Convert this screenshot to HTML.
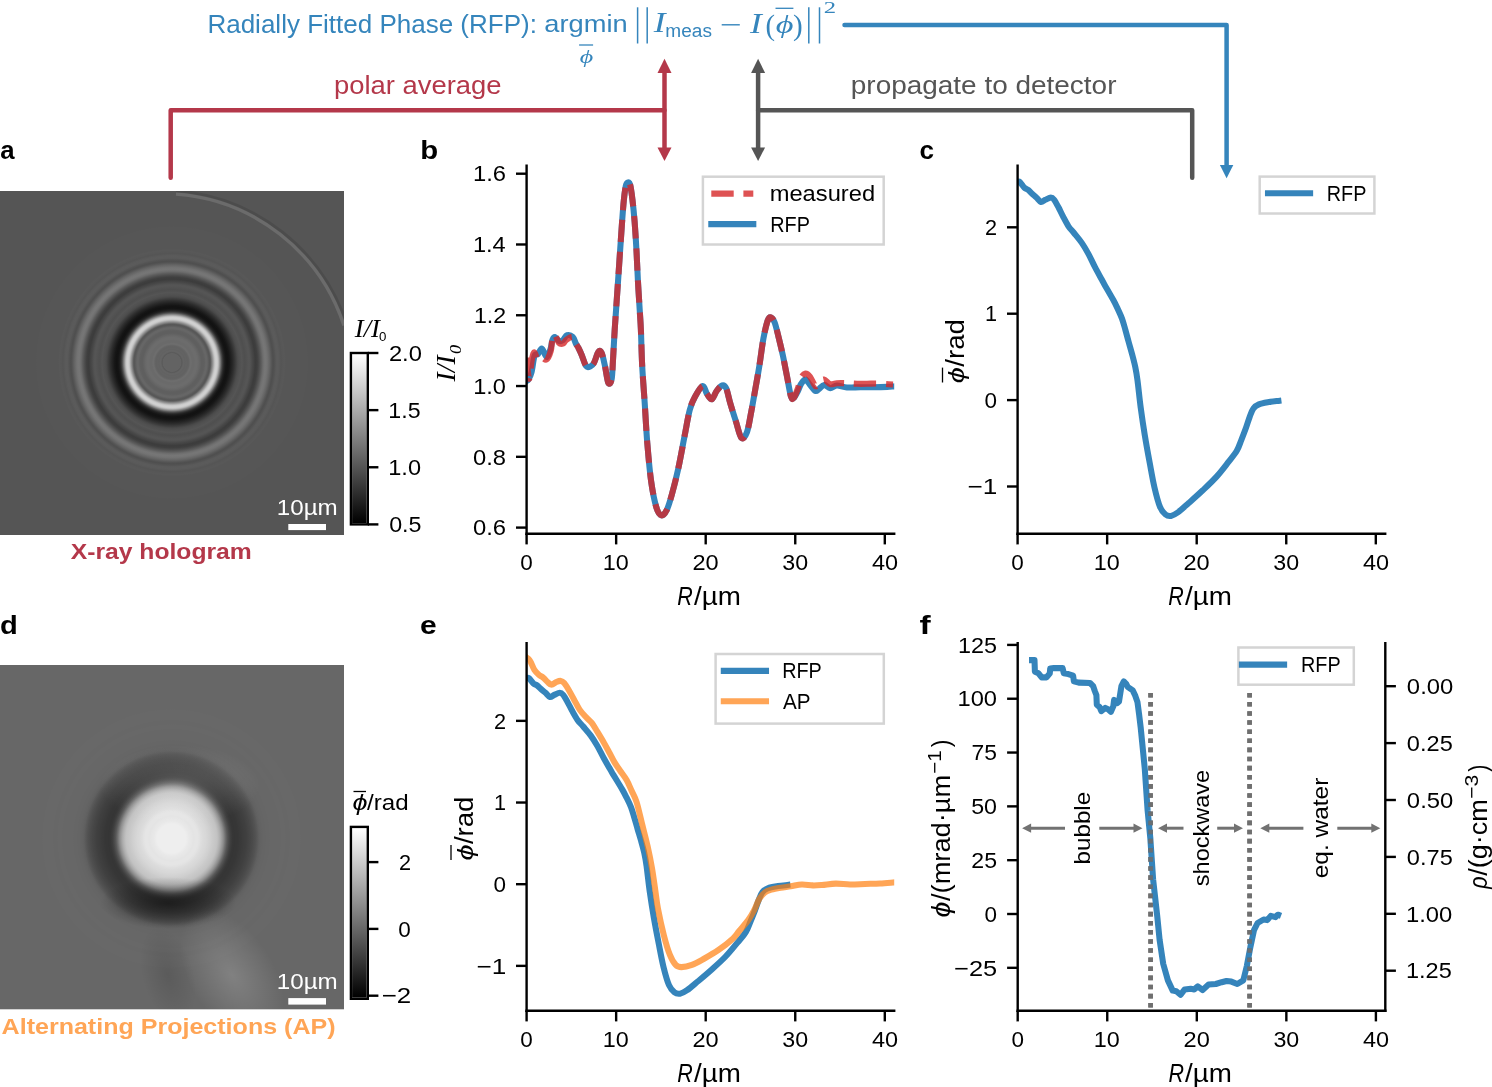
<!DOCTYPE html>
<html><head><meta charset="utf-8"><title>Radially Fitted Phase figure</title><style>html,body{margin:0;padding:0;background:#fff;overflow:hidden}svg{display:block;font-family:"Liberation Sans",sans-serif;will-change:transform}</style></head><body>
<svg width="1492" height="1087" viewBox="0 0 1492 1087"><defs><radialGradient id="ga" gradientUnits="userSpaceOnUse" cx="172.00" cy="362.50" r="136.10"><stop offset="0" stop-color="rgb(99,99,99)"/><stop offset="0.0661" stop-color="rgb(99,99,99)"/><stop offset="0.0707" stop-color="rgb(91,91,91)"/><stop offset="0.0752" stop-color="rgb(92,92,92)"/><stop offset="0.0798" stop-color="rgb(98,98,98)"/><stop offset="0.0843" stop-color="rgb(100,100,100)"/><stop offset="0.0889" stop-color="rgb(100,100,100)"/><stop offset="0.0935" stop-color="rgb(98,98,98)"/><stop offset="0.0980" stop-color="rgb(98,98,98)"/><stop offset="0.1026" stop-color="rgb(99,99,99)"/><stop offset="0.1071" stop-color="rgb(99,99,99)"/><stop offset="0.1117" stop-color="rgb(98,98,98)"/><stop offset="0.1162" stop-color="rgb(98,98,98)"/><stop offset="0.1208" stop-color="rgb(99,99,99)"/><stop offset="0.1253" stop-color="rgb(101,101,101)"/><stop offset="0.1299" stop-color="rgb(105,105,105)"/><stop offset="0.1345" stop-color="rgb(109,109,109)"/><stop offset="0.1390" stop-color="rgb(109,109,109)"/><stop offset="0.1436" stop-color="rgb(108,108,108)"/><stop offset="0.1481" stop-color="rgb(106,106,106)"/><stop offset="0.1527" stop-color="rgb(106,106,106)"/><stop offset="0.1572" stop-color="rgb(106,106,106)"/><stop offset="0.1618" stop-color="rgb(106,106,106)"/><stop offset="0.1663" stop-color="rgb(107,107,107)"/><stop offset="0.1709" stop-color="rgb(108,108,108)"/><stop offset="0.1755" stop-color="rgb(108,108,108)"/><stop offset="0.1800" stop-color="rgb(108,108,108)"/><stop offset="0.1846" stop-color="rgb(108,108,108)"/><stop offset="0.1891" stop-color="rgb(106,106,106)"/><stop offset="0.1937" stop-color="rgb(105,105,105)"/><stop offset="0.1982" stop-color="rgb(103,103,103)"/><stop offset="0.2028" stop-color="rgb(101,101,101)"/><stop offset="0.2073" stop-color="rgb(99,99,99)"/><stop offset="0.2119" stop-color="rgb(97,97,97)"/><stop offset="0.2165" stop-color="rgb(95,95,95)"/><stop offset="0.2210" stop-color="rgb(95,95,95)"/><stop offset="0.2256" stop-color="rgb(95,95,95)"/><stop offset="0.2301" stop-color="rgb(95,95,95)"/><stop offset="0.2347" stop-color="rgb(96,96,96)"/><stop offset="0.2392" stop-color="rgb(97,97,97)"/><stop offset="0.2438" stop-color="rgb(100,100,100)"/><stop offset="0.2483" stop-color="rgb(102,102,102)"/><stop offset="0.2529" stop-color="rgb(102,102,102)"/><stop offset="0.2575" stop-color="rgb(102,102,102)"/><stop offset="0.2620" stop-color="rgb(98,98,98)"/><stop offset="0.2666" stop-color="rgb(94,94,94)"/><stop offset="0.2711" stop-color="rgb(90,90,90)"/><stop offset="0.2757" stop-color="rgb(87,87,87)"/><stop offset="0.2802" stop-color="rgb(88,88,88)"/><stop offset="0.2848" stop-color="rgb(96,96,96)"/><stop offset="0.2893" stop-color="rgb(113,113,113)"/><stop offset="0.2939" stop-color="rgb(129,129,129)"/><stop offset="0.2985" stop-color="rgb(144,144,144)"/><stop offset="0.3030" stop-color="rgb(160,160,160)"/><stop offset="0.3076" stop-color="rgb(176,176,176)"/><stop offset="0.3121" stop-color="rgb(191,191,191)"/><stop offset="0.3167" stop-color="rgb(202,202,202)"/><stop offset="0.3212" stop-color="rgb(207,207,207)"/><stop offset="0.3258" stop-color="rgb(209,209,209)"/><stop offset="0.3303" stop-color="rgb(208,208,208)"/><stop offset="0.3349" stop-color="rgb(202,202,202)"/><stop offset="0.3395" stop-color="rgb(190,190,190)"/><stop offset="0.3440" stop-color="rgb(174,174,174)"/><stop offset="0.3486" stop-color="rgb(152,152,152)"/><stop offset="0.3531" stop-color="rgb(133,133,133)"/><stop offset="0.3577" stop-color="rgb(113,113,113)"/><stop offset="0.3622" stop-color="rgb(90,90,90)"/><stop offset="0.3668" stop-color="rgb(74,74,74)"/><stop offset="0.3713" stop-color="rgb(58,58,58)"/><stop offset="0.3759" stop-color="rgb(46,46,46)"/><stop offset="0.3805" stop-color="rgb(37,37,37)"/><stop offset="0.3850" stop-color="rgb(30,30,30)"/><stop offset="0.3896" stop-color="rgb(26,26,26)"/><stop offset="0.3941" stop-color="rgb(22,22,22)"/><stop offset="0.3987" stop-color="rgb(19,19,19)"/><stop offset="0.4032" stop-color="rgb(19,19,19)"/><stop offset="0.4078" stop-color="rgb(18,18,18)"/><stop offset="0.4123" stop-color="rgb(19,19,19)"/><stop offset="0.4169" stop-color="rgb(21,21,21)"/><stop offset="0.4215" stop-color="rgb(22,22,22)"/><stop offset="0.4260" stop-color="rgb(26,26,26)"/><stop offset="0.4306" stop-color="rgb(29,29,29)"/><stop offset="0.4351" stop-color="rgb(32,32,32)"/><stop offset="0.4397" stop-color="rgb(36,36,36)"/><stop offset="0.4442" stop-color="rgb(39,39,39)"/><stop offset="0.4488" stop-color="rgb(43,43,43)"/><stop offset="0.4533" stop-color="rgb(47,47,47)"/><stop offset="0.4579" stop-color="rgb(51,51,51)"/><stop offset="0.4625" stop-color="rgb(56,56,56)"/><stop offset="0.4670" stop-color="rgb(60,60,60)"/><stop offset="0.4716" stop-color="rgb(64,64,64)"/><stop offset="0.4761" stop-color="rgb(69,69,69)"/><stop offset="0.4807" stop-color="rgb(73,73,73)"/><stop offset="0.4852" stop-color="rgb(76,76,76)"/><stop offset="0.4898" stop-color="rgb(78,78,78)"/><stop offset="0.4943" stop-color="rgb(80,80,80)"/><stop offset="0.4989" stop-color="rgb(81,81,81)"/><stop offset="0.5035" stop-color="rgb(82,82,82)"/><stop offset="0.5080" stop-color="rgb(83,83,83)"/><stop offset="0.5126" stop-color="rgb(85,85,85)"/><stop offset="0.5171" stop-color="rgb(84,84,84)"/><stop offset="0.5217" stop-color="rgb(82,82,82)"/><stop offset="0.5262" stop-color="rgb(81,81,81)"/><stop offset="0.5308" stop-color="rgb(80,80,80)"/><stop offset="0.5353" stop-color="rgb(79,79,79)"/><stop offset="0.5399" stop-color="rgb(80,80,80)"/><stop offset="0.5445" stop-color="rgb(81,81,81)"/><stop offset="0.5490" stop-color="rgb(82,82,82)"/><stop offset="0.5536" stop-color="rgb(83,83,83)"/><stop offset="0.5581" stop-color="rgb(84,84,84)"/><stop offset="0.5627" stop-color="rgb(85,85,85)"/><stop offset="0.5672" stop-color="rgb(85,85,85)"/><stop offset="0.5718" stop-color="rgb(84,84,84)"/><stop offset="0.5763" stop-color="rgb(82,82,82)"/><stop offset="0.5809" stop-color="rgb(79,79,79)"/><stop offset="0.5855" stop-color="rgb(76,76,76)"/><stop offset="0.5900" stop-color="rgb(73,73,73)"/><stop offset="0.5946" stop-color="rgb(70,70,70)"/><stop offset="0.5991" stop-color="rgb(68,68,68)"/><stop offset="0.6037" stop-color="rgb(65,65,65)"/><stop offset="0.6082" stop-color="rgb(62,62,62)"/><stop offset="0.6128" stop-color="rgb(60,60,60)"/><stop offset="0.6173" stop-color="rgb(61,61,61)"/><stop offset="0.6219" stop-color="rgb(62,62,62)"/><stop offset="0.6265" stop-color="rgb(63,63,63)"/><stop offset="0.6310" stop-color="rgb(67,67,67)"/><stop offset="0.6356" stop-color="rgb(71,71,71)"/><stop offset="0.6401" stop-color="rgb(75,75,75)"/><stop offset="0.6447" stop-color="rgb(80,80,80)"/><stop offset="0.6492" stop-color="rgb(85,85,85)"/><stop offset="0.6538" stop-color="rgb(90,90,90)"/><stop offset="0.6583" stop-color="rgb(95,95,95)"/><stop offset="0.6629" stop-color="rgb(101,101,101)"/><stop offset="0.6675" stop-color="rgb(107,107,107)"/><stop offset="0.6720" stop-color="rgb(111,111,111)"/><stop offset="0.6766" stop-color="rgb(114,114,114)"/><stop offset="0.6811" stop-color="rgb(117,117,117)"/><stop offset="0.6857" stop-color="rgb(118,118,118)"/><stop offset="0.6902" stop-color="rgb(117,117,117)"/><stop offset="0.6948" stop-color="rgb(116,116,116)"/><stop offset="0.6993" stop-color="rgb(114,114,114)"/><stop offset="0.7039" stop-color="rgb(111,111,111)"/><stop offset="0.7084" stop-color="rgb(107,107,107)"/><stop offset="0.7130" stop-color="rgb(104,104,104)"/><stop offset="0.7176" stop-color="rgb(100,100,100)"/><stop offset="0.7221" stop-color="rgb(96,96,96)"/><stop offset="0.7267" stop-color="rgb(91,91,91)"/><stop offset="0.7312" stop-color="rgb(87,87,87)"/><stop offset="0.7358" stop-color="rgb(83,83,83)"/><stop offset="0.7403" stop-color="rgb(80,80,80)"/><stop offset="0.7449" stop-color="rgb(79,79,79)"/><stop offset="0.7494" stop-color="rgb(81,81,81)"/><stop offset="0.7540" stop-color="rgb(83,83,83)"/><stop offset="0.7586" stop-color="rgb(85,85,85)"/><stop offset="0.7631" stop-color="rgb(88,88,88)"/><stop offset="0.7677" stop-color="rgb(90,90,90)"/><stop offset="0.7722" stop-color="rgb(90,90,90)"/><stop offset="0.7768" stop-color="rgb(91,91,91)"/><stop offset="0.7813" stop-color="rgb(90,90,90)"/><stop offset="0.7859" stop-color="rgb(90,90,90)"/><stop offset="0.7904" stop-color="rgb(88,88,88)"/><stop offset="0.7950" stop-color="rgb(87,87,87)"/><stop offset="0.7996" stop-color="rgb(85,85,85)"/><stop offset="0.8041" stop-color="rgb(85,85,85)"/><stop offset="0.8087" stop-color="rgb(86,86,86)"/><stop offset="0.8132" stop-color="rgb(87,87,87)"/><stop offset="0.8178" stop-color="rgb(87,87,87)"/><stop offset="0.8223" stop-color="rgb(88,88,88)"/><stop offset="0.8269" stop-color="rgb(88,88,88)"/><stop offset="0.8314" stop-color="rgb(87,87,87)"/><stop offset="0.8360" stop-color="rgb(86,86,86)"/><stop offset="0.8406" stop-color="rgb(86,86,86)"/><stop offset="0.8451" stop-color="rgb(86,86,86)"/><stop offset="0.8497" stop-color="rgb(86,86,86)"/><stop offset="0.8542" stop-color="rgb(86,86,86)"/><stop offset="0.8588" stop-color="rgb(86,86,86)"/><stop offset="0.8633" stop-color="rgb(86,86,86)"/><stop offset="0.8679" stop-color="rgb(86,86,86)"/><stop offset="0.8724" stop-color="rgb(86,86,86)"/><stop offset="0.8770" stop-color="rgb(86,86,86)"/><stop offset="0.8816" stop-color="rgb(86,86,86)"/><stop offset="0.8861" stop-color="rgb(86,86,86)"/><stop offset="0.8907" stop-color="rgb(86,86,86)"/><stop offset="0.8952" stop-color="rgb(86,86,86)"/><stop offset="0.8998" stop-color="rgb(86,86,86)"/><stop offset="0.9043" stop-color="rgb(86,86,86)"/><stop offset="0.9089" stop-color="rgb(86,86,86)"/><stop offset="0.9134" stop-color="rgb(86,86,86)"/><stop offset="0.9180" stop-color="rgb(86,86,86)"/><stop offset="0.9226" stop-color="rgb(86,86,86)"/><stop offset="0.9271" stop-color="rgb(86,86,86)"/><stop offset="0.9317" stop-color="rgb(86,86,86)"/><stop offset="0.9362" stop-color="rgb(86,86,86)"/><stop offset="0.9408" stop-color="rgb(86,86,86)"/><stop offset="0.9453" stop-color="rgb(86,86,86)"/><stop offset="0.9499" stop-color="rgb(86,86,86)"/><stop offset="0.9544" stop-color="rgb(86,86,86)"/><stop offset="0.9590" stop-color="rgb(86,86,86)"/><stop offset="0.9636" stop-color="rgb(86,86,86)"/><stop offset="0.9681" stop-color="rgb(86,86,86)"/><stop offset="0.9727" stop-color="rgb(86,86,86)"/><stop offset="0.9772" stop-color="rgb(86,86,86)"/><stop offset="0.9818" stop-color="rgb(86,86,86)"/><stop offset="0.9863" stop-color="rgb(86,86,86)"/><stop offset="0.9909" stop-color="rgb(86,86,86)"/><stop offset="0.9954" stop-color="rgb(86,86,86)"/><stop offset="1.0000" stop-color="rgb(85,85,85)"/></radialGradient><radialGradient id="gd" gradientUnits="userSpaceOnUse" cx="171.50" cy="838.50" r="129.30"><stop offset="0" stop-color="rgb(238,238,238)"/><stop offset="0.1121" stop-color="rgb(238,238,238)"/><stop offset="0.1165" stop-color="rgb(237,237,237)"/><stop offset="0.1208" stop-color="rgb(236,236,236)"/><stop offset="0.1251" stop-color="rgb(235,235,235)"/><stop offset="0.1295" stop-color="rgb(234,234,234)"/><stop offset="0.1338" stop-color="rgb(233,233,233)"/><stop offset="0.1381" stop-color="rgb(232,232,232)"/><stop offset="0.1425" stop-color="rgb(232,232,232)"/><stop offset="0.1468" stop-color="rgb(231,231,231)"/><stop offset="0.1511" stop-color="rgb(231,231,231)"/><stop offset="0.1555" stop-color="rgb(230,230,230)"/><stop offset="0.1598" stop-color="rgb(230,230,230)"/><stop offset="0.1641" stop-color="rgb(229,229,229)"/><stop offset="0.1684" stop-color="rgb(228,228,228)"/><stop offset="0.1728" stop-color="rgb(228,228,228)"/><stop offset="0.1771" stop-color="rgb(228,228,228)"/><stop offset="0.1814" stop-color="rgb(229,229,229)"/><stop offset="0.1858" stop-color="rgb(229,229,229)"/><stop offset="0.1901" stop-color="rgb(229,229,229)"/><stop offset="0.1944" stop-color="rgb(229,229,229)"/><stop offset="0.1988" stop-color="rgb(229,229,229)"/><stop offset="0.2031" stop-color="rgb(229,229,229)"/><stop offset="0.2074" stop-color="rgb(228,228,228)"/><stop offset="0.2118" stop-color="rgb(227,227,227)"/><stop offset="0.2161" stop-color="rgb(226,226,226)"/><stop offset="0.2204" stop-color="rgb(225,225,225)"/><stop offset="0.2247" stop-color="rgb(223,223,223)"/><stop offset="0.2291" stop-color="rgb(222,222,222)"/><stop offset="0.2334" stop-color="rgb(221,221,221)"/><stop offset="0.2377" stop-color="rgb(220,220,220)"/><stop offset="0.2421" stop-color="rgb(219,219,219)"/><stop offset="0.2464" stop-color="rgb(218,218,218)"/><stop offset="0.2507" stop-color="rgb(218,218,218)"/><stop offset="0.2551" stop-color="rgb(217,217,217)"/><stop offset="0.2594" stop-color="rgb(216,216,216)"/><stop offset="0.2637" stop-color="rgb(216,216,216)"/><stop offset="0.2681" stop-color="rgb(215,215,215)"/><stop offset="0.2724" stop-color="rgb(214,214,214)"/><stop offset="0.2767" stop-color="rgb(213,213,213)"/><stop offset="0.2811" stop-color="rgb(212,212,212)"/><stop offset="0.2854" stop-color="rgb(211,211,211)"/><stop offset="0.2897" stop-color="rgb(210,210,210)"/><stop offset="0.2940" stop-color="rgb(209,209,209)"/><stop offset="0.2984" stop-color="rgb(208,208,208)"/><stop offset="0.3027" stop-color="rgb(207,207,207)"/><stop offset="0.3070" stop-color="rgb(206,206,206)"/><stop offset="0.3114" stop-color="rgb(204,204,204)"/><stop offset="0.3157" stop-color="rgb(203,203,203)"/><stop offset="0.3200" stop-color="rgb(202,202,202)"/><stop offset="0.3244" stop-color="rgb(201,201,201)"/><stop offset="0.3287" stop-color="rgb(200,200,200)"/><stop offset="0.3330" stop-color="rgb(199,199,199)"/><stop offset="0.3374" stop-color="rgb(198,198,198)"/><stop offset="0.3417" stop-color="rgb(197,197,197)"/><stop offset="0.3460" stop-color="rgb(196,196,196)"/><stop offset="0.3503" stop-color="rgb(195,195,195)"/><stop offset="0.3547" stop-color="rgb(193,193,193)"/><stop offset="0.3590" stop-color="rgb(189,189,189)"/><stop offset="0.3633" stop-color="rgb(186,186,186)"/><stop offset="0.3677" stop-color="rgb(182,182,182)"/><stop offset="0.3720" stop-color="rgb(178,178,178)"/><stop offset="0.3763" stop-color="rgb(174,174,174)"/><stop offset="0.3807" stop-color="rgb(169,169,169)"/><stop offset="0.3850" stop-color="rgb(163,163,163)"/><stop offset="0.3893" stop-color="rgb(157,157,157)"/><stop offset="0.3937" stop-color="rgb(151,151,151)"/><stop offset="0.3980" stop-color="rgb(145,145,145)"/><stop offset="0.4023" stop-color="rgb(138,138,138)"/><stop offset="0.4067" stop-color="rgb(130,130,130)"/><stop offset="0.4110" stop-color="rgb(122,122,122)"/><stop offset="0.4153" stop-color="rgb(113,113,113)"/><stop offset="0.4196" stop-color="rgb(106,106,106)"/><stop offset="0.4240" stop-color="rgb(99,99,99)"/><stop offset="0.4283" stop-color="rgb(91,91,91)"/><stop offset="0.4326" stop-color="rgb(85,85,85)"/><stop offset="0.4370" stop-color="rgb(81,81,81)"/><stop offset="0.4413" stop-color="rgb(76,76,76)"/><stop offset="0.4456" stop-color="rgb(71,71,71)"/><stop offset="0.4500" stop-color="rgb(68,68,68)"/><stop offset="0.4543" stop-color="rgb(64,64,64)"/><stop offset="0.4586" stop-color="rgb(61,61,61)"/><stop offset="0.4630" stop-color="rgb(59,59,59)"/><stop offset="0.4673" stop-color="rgb(57,57,57)"/><stop offset="0.4716" stop-color="rgb(55,55,55)"/><stop offset="0.4759" stop-color="rgb(54,54,54)"/><stop offset="0.4803" stop-color="rgb(54,54,54)"/><stop offset="0.4846" stop-color="rgb(53,53,53)"/><stop offset="0.4889" stop-color="rgb(53,53,53)"/><stop offset="0.4933" stop-color="rgb(54,54,54)"/><stop offset="0.4976" stop-color="rgb(54,54,54)"/><stop offset="0.5019" stop-color="rgb(54,54,54)"/><stop offset="0.5063" stop-color="rgb(54,54,54)"/><stop offset="0.5106" stop-color="rgb(54,54,54)"/><stop offset="0.5149" stop-color="rgb(55,55,55)"/><stop offset="0.5193" stop-color="rgb(55,55,55)"/><stop offset="0.5236" stop-color="rgb(56,56,56)"/><stop offset="0.5279" stop-color="rgb(57,57,57)"/><stop offset="0.5323" stop-color="rgb(57,57,57)"/><stop offset="0.5366" stop-color="rgb(58,58,58)"/><stop offset="0.5409" stop-color="rgb(58,58,58)"/><stop offset="0.5452" stop-color="rgb(59,59,59)"/><stop offset="0.5496" stop-color="rgb(60,60,60)"/><stop offset="0.5539" stop-color="rgb(60,60,60)"/><stop offset="0.5582" stop-color="rgb(61,61,61)"/><stop offset="0.5626" stop-color="rgb(62,62,62)"/><stop offset="0.5669" stop-color="rgb(62,62,62)"/><stop offset="0.5712" stop-color="rgb(63,63,63)"/><stop offset="0.5756" stop-color="rgb(63,63,63)"/><stop offset="0.5799" stop-color="rgb(64,64,64)"/><stop offset="0.5842" stop-color="rgb(65,65,65)"/><stop offset="0.5886" stop-color="rgb(66,66,66)"/><stop offset="0.5929" stop-color="rgb(67,67,67)"/><stop offset="0.5972" stop-color="rgb(68,68,68)"/><stop offset="0.6015" stop-color="rgb(69,69,69)"/><stop offset="0.6059" stop-color="rgb(70,70,70)"/><stop offset="0.6102" stop-color="rgb(70,70,70)"/><stop offset="0.6145" stop-color="rgb(72,72,72)"/><stop offset="0.6189" stop-color="rgb(73,73,73)"/><stop offset="0.6232" stop-color="rgb(74,74,74)"/><stop offset="0.6275" stop-color="rgb(75,75,75)"/><stop offset="0.6319" stop-color="rgb(77,77,77)"/><stop offset="0.6362" stop-color="rgb(78,78,78)"/><stop offset="0.6405" stop-color="rgb(79,79,79)"/><stop offset="0.6449" stop-color="rgb(81,81,81)"/><stop offset="0.6492" stop-color="rgb(82,82,82)"/><stop offset="0.6535" stop-color="rgb(84,84,84)"/><stop offset="0.6578" stop-color="rgb(86,86,86)"/><stop offset="0.6622" stop-color="rgb(88,88,88)"/><stop offset="0.6665" stop-color="rgb(90,90,90)"/><stop offset="0.6708" stop-color="rgb(92,92,92)"/><stop offset="0.6752" stop-color="rgb(95,95,95)"/><stop offset="0.6795" stop-color="rgb(96,96,96)"/><stop offset="0.6838" stop-color="rgb(97,97,97)"/><stop offset="0.6882" stop-color="rgb(98,98,98)"/><stop offset="0.6925" stop-color="rgb(99,99,99)"/><stop offset="0.6968" stop-color="rgb(99,99,99)"/><stop offset="0.7012" stop-color="rgb(100,100,100)"/><stop offset="0.7055" stop-color="rgb(100,100,100)"/><stop offset="0.7098" stop-color="rgb(101,101,101)"/><stop offset="0.7142" stop-color="rgb(101,101,101)"/><stop offset="0.7185" stop-color="rgb(101,101,101)"/><stop offset="0.7228" stop-color="rgb(101,101,101)"/><stop offset="0.7271" stop-color="rgb(101,101,101)"/><stop offset="0.7315" stop-color="rgb(102,102,102)"/><stop offset="0.7358" stop-color="rgb(102,102,102)"/><stop offset="0.7401" stop-color="rgb(102,102,102)"/><stop offset="0.7445" stop-color="rgb(102,102,102)"/><stop offset="0.7488" stop-color="rgb(102,102,102)"/><stop offset="0.7531" stop-color="rgb(102,102,102)"/><stop offset="0.7575" stop-color="rgb(102,102,102)"/><stop offset="0.7618" stop-color="rgb(103,103,103)"/><stop offset="0.7661" stop-color="rgb(103,103,103)"/><stop offset="0.7705" stop-color="rgb(103,103,103)"/><stop offset="0.7748" stop-color="rgb(103,103,103)"/><stop offset="0.7791" stop-color="rgb(103,103,103)"/><stop offset="0.7834" stop-color="rgb(103,103,103)"/><stop offset="0.7878" stop-color="rgb(103,103,103)"/><stop offset="0.7921" stop-color="rgb(103,103,103)"/><stop offset="0.7964" stop-color="rgb(103,103,103)"/><stop offset="0.8008" stop-color="rgb(103,103,103)"/><stop offset="0.8051" stop-color="rgb(103,103,103)"/><stop offset="0.8094" stop-color="rgb(103,103,103)"/><stop offset="0.8138" stop-color="rgb(103,103,103)"/><stop offset="0.8181" stop-color="rgb(103,103,103)"/><stop offset="0.8224" stop-color="rgb(103,103,103)"/><stop offset="0.8268" stop-color="rgb(103,103,103)"/><stop offset="0.8311" stop-color="rgb(103,103,103)"/><stop offset="0.8354" stop-color="rgb(103,103,103)"/><stop offset="0.8398" stop-color="rgb(103,103,103)"/><stop offset="0.8441" stop-color="rgb(103,103,103)"/><stop offset="0.8484" stop-color="rgb(104,104,104)"/><stop offset="0.8527" stop-color="rgb(104,104,104)"/><stop offset="0.8571" stop-color="rgb(104,104,104)"/><stop offset="0.8614" stop-color="rgb(104,104,104)"/><stop offset="0.8657" stop-color="rgb(104,104,104)"/><stop offset="0.8701" stop-color="rgb(104,104,104)"/><stop offset="0.8744" stop-color="rgb(104,104,104)"/><stop offset="0.8787" stop-color="rgb(104,104,104)"/><stop offset="0.8831" stop-color="rgb(103,103,103)"/><stop offset="0.8874" stop-color="rgb(103,103,103)"/><stop offset="0.8917" stop-color="rgb(103,103,103)"/><stop offset="0.8961" stop-color="rgb(103,103,103)"/><stop offset="0.9004" stop-color="rgb(103,103,103)"/><stop offset="0.9047" stop-color="rgb(103,103,103)"/><stop offset="0.9090" stop-color="rgb(103,103,103)"/><stop offset="0.9134" stop-color="rgb(103,103,103)"/><stop offset="0.9177" stop-color="rgb(104,104,104)"/><stop offset="0.9220" stop-color="rgb(104,104,104)"/><stop offset="0.9264" stop-color="rgb(104,104,104)"/><stop offset="0.9307" stop-color="rgb(104,104,104)"/><stop offset="0.9350" stop-color="rgb(104,104,104)"/><stop offset="0.9394" stop-color="rgb(104,104,104)"/><stop offset="0.9437" stop-color="rgb(104,104,104)"/><stop offset="0.9480" stop-color="rgb(104,104,104)"/><stop offset="0.9524" stop-color="rgb(104,104,104)"/><stop offset="0.9567" stop-color="rgb(104,104,104)"/><stop offset="0.9610" stop-color="rgb(104,104,104)"/><stop offset="0.9654" stop-color="rgb(104,104,104)"/><stop offset="0.9697" stop-color="rgb(104,104,104)"/><stop offset="0.9740" stop-color="rgb(104,104,104)"/><stop offset="0.9783" stop-color="rgb(104,104,104)"/><stop offset="0.9827" stop-color="rgb(104,104,104)"/><stop offset="0.9870" stop-color="rgb(104,104,104)"/><stop offset="0.9913" stop-color="rgb(104,104,104)"/><stop offset="0.9957" stop-color="rgb(104,104,104)"/><stop offset="1.0000" stop-color="rgb(103,103,103)"/></radialGradient><radialGradient id="shadowD" cx="0.5" cy="0.5" r="0.5"><stop offset="0" stop-color="#000" stop-opacity="0.45"/><stop offset="1" stop-color="#000" stop-opacity="0"/></radialGradient><radialGradient id="shadowD2" cx="0.5" cy="0.5" r="0.5"><stop offset="0" stop-color="#000" stop-opacity="0.12"/><stop offset="1" stop-color="#000" stop-opacity="0"/></radialGradient><radialGradient id="lightD2" cx="0.5" cy="0.5" r="0.5"><stop offset="0" stop-color="#fff" stop-opacity="0.18"/><stop offset="1" stop-color="#fff" stop-opacity="0"/></radialGradient><radialGradient id="lightD" cx="0.5" cy="0.5" r="0.5"><stop offset="0" stop-color="#fff" stop-opacity="0.17"/><stop offset="1" stop-color="#fff" stop-opacity="0"/></radialGradient><linearGradient id="cbar" x1="0" y1="1" x2="0" y2="0"><stop offset="0" stop-color="#000"/><stop offset="1" stop-color="#fff"/></linearGradient><clipPath id="clipB"><rect x="526.60" y="159.60" width="367.60" height="374.20"/></clipPath><clipPath id="clipC"><rect x="1017.60" y="159.60" width="367.60" height="374.20"/></clipPath><clipPath id="clipE"><rect x="526.60" y="637.00" width="367.60" height="373.80"/></clipPath><clipPath id="clipF"><rect x="1017.70" y="637.00" width="367.60" height="373.80"/></clipPath><clipPath id="clipA"><rect x="0" y="191" width="344" height="344"/></clipPath><clipPath id="clipD"><rect x="0" y="665" width="344" height="344.3"/></clipPath></defs><rect width="1492" height="1087" fill="#fff"/><rect x="0.00" y="191.00" width="344.00" height="344.00" fill="url(#ga)"/>
<g clip-path="url(#clipA)"><path d="M 176 194.1 A 191.4 191.4 0 0 1 344 325.5" fill="none" stroke="#fff" stroke-opacity="0.13" stroke-width="3.5"/><path d="M 176 190.9 A 194.6 194.6 0 0 1 347.2 325.5" fill="none" stroke="#000" stroke-opacity="0.10" stroke-width="3"/></g>
<rect x="288.30" y="524.00" width="37.70" height="6.10" fill="#fff"/>
<text x="276.81" y="515.30" font-family='"Liberation Sans", sans-serif' font-size="22.37" fill="#fff" textLength="60.96" lengthAdjust="spacingAndGlyphs">10µm</text>
<rect x="352.10" y="354.20" width="14.50" height="169.00" fill="url(#cbar)"/>
<rect x="350.9" y="353.0" width="16.9" height="171.4" fill="none" stroke="#000" stroke-width="2.4"/>
<line x1="367.80" y1="353.00" x2="378.40" y2="353.00" stroke="#000" stroke-width="2.40" stroke-linecap="butt"/>
<text x="388.91" y="360.72" font-family='"Liberation Sans", sans-serif' font-size="22.53" fill="#000" textLength="33.02" lengthAdjust="spacingAndGlyphs">2.0</text>
<line x1="367.80" y1="410.13" x2="378.40" y2="410.13" stroke="#000" stroke-width="2.40" stroke-linecap="butt"/>
<text x="388.30" y="417.86" font-family='"Liberation Sans", sans-serif' font-size="22.47" fill="#000" textLength="32.24" lengthAdjust="spacingAndGlyphs">1.5</text>
<line x1="367.80" y1="467.26" x2="378.40" y2="467.26" stroke="#000" stroke-width="2.40" stroke-linecap="butt"/>
<text x="388.27" y="474.99" font-family='"Liberation Sans", sans-serif' font-size="22.53" fill="#000" textLength="32.78" lengthAdjust="spacingAndGlyphs">1.0</text>
<line x1="367.80" y1="524.40" x2="378.40" y2="524.40" stroke="#000" stroke-width="2.40" stroke-linecap="butt"/>
<text x="389.20" y="532.13" font-family='"Liberation Sans", sans-serif' font-size="22.53" fill="#000" textLength="32.34" lengthAdjust="spacingAndGlyphs">0.5</text>
<text x="354.84" y="336.90" font-family='"Liberation Serif", serif' font-size="24.30" font-style="italic" fill="#000" textLength="25.08" lengthAdjust="spacingAndGlyphs">I/I</text>
<text x="379.11" y="341.30" font-family='"Liberation Sans", sans-serif' font-size="13.50" fill="#000" textLength="7.39" lengthAdjust="spacingAndGlyphs">0</text>
<text x="70.72" y="559.40" font-family='"Liberation Sans", sans-serif' font-size="22.37" font-weight="bold" fill="#b4384a" textLength="181.09" lengthAdjust="spacingAndGlyphs">X-ray hologram</text>
<rect x="0.00" y="665.00" width="344.00" height="344.30" fill="url(#gd)"/>
<g clip-path="url(#clipD)"><ellipse cx="168" cy="903" rx="68" ry="26" fill="url(#shadowD)"/><ellipse cx="232" cy="975" rx="42" ry="72" transform="rotate(-32 232 975)" fill="url(#lightD)"/><ellipse cx="180" cy="785" rx="80" ry="40" fill="url(#lightD2)"/><ellipse cx="168" cy="975" rx="26" ry="50" transform="rotate(-15 168 975)" fill="url(#shadowD2)"/></g>
<rect x="288.30" y="998.10" width="37.70" height="6.50" fill="#fff"/>
<text x="276.81" y="989.40" font-family='"Liberation Sans", sans-serif' font-size="22.37" fill="#fff" textLength="60.96" lengthAdjust="spacingAndGlyphs">10µm</text>
<rect x="352.10" y="828.10" width="14.50" height="169.50" fill="url(#cbar)"/>
<rect x="350.9" y="826.9" width="16.9" height="171.9" fill="none" stroke="#000" stroke-width="2.4"/>
<line x1="367.80" y1="862.10" x2="378.40" y2="862.10" stroke="#000" stroke-width="2.40" stroke-linecap="butt"/>
<text x="398.94" y="869.83" font-family='"Liberation Sans", sans-serif' font-size="22.53" fill="#000" textLength="12.06" lengthAdjust="spacingAndGlyphs">2</text>
<line x1="367.80" y1="928.90" x2="378.40" y2="928.90" stroke="#000" stroke-width="2.40" stroke-linecap="butt"/>
<text x="398.27" y="936.63" font-family='"Liberation Sans", sans-serif' font-size="22.53" fill="#000" textLength="12.51" lengthAdjust="spacingAndGlyphs">0</text>
<line x1="367.80" y1="995.70" x2="378.40" y2="995.70" stroke="#000" stroke-width="2.40" stroke-linecap="butt"/>
<text x="381.73" y="1003.43" font-family='"Liberation Sans", sans-serif' font-size="22.53" fill="#000" textLength="29.50" lengthAdjust="spacingAndGlyphs">−2</text>
<line x1="353.50" y1="791.50" x2="366.00" y2="791.50" stroke="#000" stroke-width="1.30" stroke-linecap="butt"/>
<text x="352.40" y="810.40" font-family='"Liberation Sans", sans-serif' font-size="22.50" font-style="italic" fill="#000" textLength="15.02" lengthAdjust="spacingAndGlyphs">ϕ</text>
<text x="367.00" y="810.40" font-family='"Liberation Sans", sans-serif' font-size="22.37" fill="#000" textLength="41.54" lengthAdjust="spacingAndGlyphs">/rad</text>
<text x="1.60" y="1034.30" font-family='"Liberation Sans", sans-serif' font-size="22.37" font-weight="bold" fill="#ffa556" textLength="333.94" lengthAdjust="spacingAndGlyphs">Alternating Projections (AP)</text>
<path d="M526.60 381.00 C526.92 380.75 527.67 381.00 528.50 379.50 C529.33 378.00 530.60 375.92 531.60 372.00 C532.60 368.08 533.43 359.00 534.50 356.00 C535.57 353.00 536.77 355.25 538.00 354.00 C539.23 352.75 540.48 348.00 541.90 348.50 C543.32 349.00 545.07 356.92 546.50 357.00 C547.93 357.08 549.52 351.83 550.50 349.00 C551.48 346.17 551.65 342.00 552.40 340.00 C553.15 338.00 553.90 336.83 555.00 337.00 C556.10 337.17 557.67 340.50 559.00 341.00 C560.33 341.50 561.67 340.97 563.00 340.00 C564.33 339.03 565.37 335.72 567.00 335.20 C568.63 334.68 571.33 335.52 572.80 336.90 C574.27 338.28 574.85 341.65 575.80 343.50 C576.75 345.35 577.50 346.05 578.50 348.00 C579.50 349.95 580.52 352.17 581.80 355.20 C583.08 358.23 584.72 364.37 586.20 366.20 C587.68 368.03 589.40 366.75 590.70 366.20 C592.00 365.65 592.72 365.28 594.00 362.90 C595.28 360.52 597.12 353.55 598.40 351.90 C599.68 350.25 600.60 350.62 601.70 353.00 C602.80 355.38 603.90 361.23 605.00 366.20 C606.10 371.17 607.20 380.58 608.30 382.80 C609.40 385.02 610.82 383.30 611.60 379.50 C612.38 375.70 612.48 368.27 613.00 360.00 C613.52 351.73 614.05 340.25 614.70 329.90 C615.35 319.55 616.17 308.62 616.90 297.90 C617.63 287.18 618.37 276.38 619.10 265.60 C619.83 254.82 620.57 243.50 621.30 233.20 C622.03 222.90 622.77 211.63 623.50 203.80 C624.23 195.97 625.02 189.75 625.70 186.20 C626.38 182.65 626.87 182.75 627.60 182.50 C628.33 182.25 629.30 181.88 630.10 184.70 C630.90 187.52 631.65 193.27 632.40 199.40 C633.15 205.53 633.92 212.92 634.60 221.50 C635.28 230.08 635.95 241.10 636.50 250.90 C637.05 260.70 637.37 270.50 637.90 280.30 C638.43 290.10 639.20 301.43 639.70 309.70 C640.20 317.97 640.48 320.53 640.90 329.90 C641.32 339.27 641.55 353.47 642.20 365.90 C642.85 378.33 643.95 391.62 644.80 404.50 C645.65 417.38 646.23 430.32 647.30 443.20 C648.37 456.08 649.68 471.08 651.20 481.80 C652.72 492.52 654.68 501.92 656.40 507.50 C658.12 513.08 659.78 514.87 661.50 515.30 C663.22 515.73 664.98 513.53 666.70 510.10 C668.42 506.67 669.88 501.57 671.80 494.70 C673.72 487.83 676.05 478.78 678.20 468.90 C680.35 459.02 682.77 445.27 684.70 435.40 C686.63 425.53 688.08 416.13 689.80 409.70 C691.52 403.27 692.85 400.75 695.00 396.80 C697.15 392.85 700.72 386.50 702.70 386.00 C704.68 385.50 705.40 391.58 706.90 393.80 C708.40 396.02 710.08 399.77 711.70 399.30 C713.32 398.83 714.87 393.30 716.60 391.00 C718.33 388.70 720.50 385.95 722.10 385.50 C723.70 385.05 724.83 385.32 726.20 388.30 C727.57 391.28 728.68 397.88 730.30 403.40 C731.92 408.92 734.05 415.65 735.90 421.40 C737.75 427.15 739.57 436.07 741.40 437.90 C743.23 439.73 745.30 436.53 746.90 432.40 C748.50 428.27 749.62 420.22 751.00 413.10 C752.38 405.98 753.82 397.52 755.20 389.70 C756.58 381.88 757.93 374.72 759.30 366.20 C760.67 357.68 762.02 346.18 763.40 338.60 C764.78 331.02 766.45 324.27 767.60 320.70 C768.75 317.13 769.15 316.97 770.30 317.20 C771.45 317.43 773.12 318.77 774.50 322.10 C775.88 325.43 777.22 331.68 778.60 337.20 C779.98 342.72 781.42 348.75 782.80 355.20 C784.18 361.65 785.53 369.00 786.90 375.90 C788.27 382.80 789.85 392.93 791.00 396.60 C792.15 400.27 792.65 398.83 793.80 397.90 C794.95 396.97 796.70 393.32 797.90 391.00 C799.10 388.68 799.75 385.92 801.00 384.00 C802.25 382.08 803.88 379.35 805.40 379.50 C806.92 379.65 808.43 383.00 810.10 384.90 C811.77 386.80 813.92 390.22 815.40 390.90 C816.88 391.58 817.55 390.00 819.00 389.00 C820.45 388.00 822.23 385.03 824.10 384.90 C825.97 384.77 828.07 388.10 830.20 388.20 C832.33 388.30 834.12 385.62 836.90 385.50 C839.68 385.38 843.00 387.22 846.90 387.50 C850.80 387.78 855.83 387.25 860.30 387.20 C864.77 387.15 869.23 387.25 873.70 387.20 C878.17 387.15 883.88 387.02 887.10 386.90 C890.32 386.78 892.02 386.57 893.00 386.50" fill="none" stroke="#1f77b4" stroke-width="6.06" stroke-linecap="square" stroke-linejoin="round" stroke-opacity="0.9" clip-path="url(#clipB)"/>
<path d="M526.60 357.50 C527.02 361.07 528.27 378.28 529.10 378.90 C529.93 379.52 530.75 365.62 531.60 361.20 C532.45 356.78 533.22 352.77 534.20 352.40 C535.18 352.03 536.33 358.27 537.50 359.00 C538.67 359.73 539.70 356.72 541.20 356.80 C542.70 356.88 544.90 360.48 546.50 359.50 C548.10 358.52 549.82 354.32 550.80 350.90 C551.78 347.48 551.73 341.70 552.40 339.00 C553.07 336.30 553.72 334.07 554.80 334.70 C555.88 335.33 557.48 341.33 558.90 342.80 C560.32 344.27 562.08 343.98 563.30 343.50 C564.52 343.02 564.62 341.00 566.20 339.90 C567.78 338.80 571.20 336.30 572.80 336.90 C574.40 337.50 574.85 341.65 575.80 343.50 C576.75 345.35 577.50 346.05 578.50 348.00 C579.50 349.95 580.52 352.17 581.80 355.20 C583.08 358.23 584.72 364.37 586.20 366.20 C587.68 368.03 589.40 366.75 590.70 366.20 C592.00 365.65 592.72 365.28 594.00 362.90 C595.28 360.52 597.12 353.55 598.40 351.90 C599.68 350.25 600.60 350.62 601.70 353.00 C602.80 355.38 603.90 361.23 605.00 366.20 C606.10 371.17 607.20 380.58 608.30 382.80 C609.40 385.02 610.82 383.30 611.60 379.50 C612.38 375.70 612.48 368.27 613.00 360.00 C613.52 351.73 614.05 340.25 614.70 329.90 C615.35 319.55 616.17 308.62 616.90 297.90 C617.63 287.18 618.37 276.38 619.10 265.60 C619.83 254.82 620.57 243.50 621.30 233.20 C622.03 222.90 622.77 211.63 623.50 203.80 C624.23 195.97 625.02 189.75 625.70 186.20 C626.38 182.65 626.87 182.75 627.60 182.50 C628.33 182.25 629.30 181.88 630.10 184.70 C630.90 187.52 631.65 193.27 632.40 199.40 C633.15 205.53 633.92 212.92 634.60 221.50 C635.28 230.08 635.95 241.10 636.50 250.90 C637.05 260.70 637.37 270.50 637.90 280.30 C638.43 290.10 639.20 301.43 639.70 309.70 C640.20 317.97 640.48 320.53 640.90 329.90 C641.32 339.27 641.55 353.47 642.20 365.90 C642.85 378.33 643.95 391.62 644.80 404.50 C645.65 417.38 646.23 430.32 647.30 443.20 C648.37 456.08 649.68 471.08 651.20 481.80 C652.72 492.52 654.68 501.92 656.40 507.50 C658.12 513.08 659.78 514.87 661.50 515.30 C663.22 515.73 664.98 513.53 666.70 510.10 C668.42 506.67 669.88 501.57 671.80 494.70 C673.72 487.83 676.05 478.78 678.20 468.90 C680.35 459.02 682.77 445.27 684.70 435.40 C686.63 425.53 688.08 416.13 689.80 409.70 C691.52 403.27 692.85 400.75 695.00 396.80 C697.15 392.85 700.72 386.50 702.70 386.00 C704.68 385.50 705.40 391.58 706.90 393.80 C708.40 396.02 710.08 399.77 711.70 399.30 C713.32 398.83 714.87 393.30 716.60 391.00 C718.33 388.70 720.50 385.95 722.10 385.50 C723.70 385.05 724.83 385.32 726.20 388.30 C727.57 391.28 728.68 397.88 730.30 403.40 C731.92 408.92 734.05 415.65 735.90 421.40 C737.75 427.15 739.57 436.07 741.40 437.90 C743.23 439.73 745.30 436.53 746.90 432.40 C748.50 428.27 749.62 420.22 751.00 413.10 C752.38 405.98 753.82 397.52 755.20 389.70 C756.58 381.88 757.93 374.72 759.30 366.20 C760.67 357.68 762.02 346.18 763.40 338.60 C764.78 331.02 766.45 324.27 767.60 320.70 C768.75 317.13 769.15 316.97 770.30 317.20 C771.45 317.43 773.12 318.77 774.50 322.10 C775.88 325.43 777.22 331.68 778.60 337.20 C779.98 342.72 781.42 348.75 782.80 355.20 C784.18 361.65 785.53 369.00 786.90 375.90 C788.27 382.80 789.85 392.93 791.00 396.60 C792.15 400.27 792.65 399.28 793.80 397.90 C794.95 396.52 796.70 391.62 797.90 388.30 C799.10 384.98 799.75 380.47 801.00 378.00 C802.25 375.53 803.88 373.70 805.40 373.50 C806.92 373.30 808.43 374.68 810.10 376.80 C811.77 378.92 813.92 385.17 815.40 386.20 C816.88 387.23 817.55 384.12 819.00 383.00 C820.45 381.88 822.23 379.30 824.10 379.50 C825.97 379.70 828.07 383.58 830.20 384.20 C832.33 384.82 834.12 383.37 836.90 383.20 C839.68 383.03 843.55 383.10 846.90 383.20 C850.25 383.30 853.65 383.70 857.00 383.80 C860.35 383.90 863.65 383.85 867.00 383.80 C870.35 383.75 873.52 383.43 877.10 383.50 C880.68 383.57 885.85 384.03 888.50 384.20 C891.15 384.37 892.25 384.45 893.00 384.50" fill="none" stroke="#d62728" stroke-width="6.06" stroke-linecap="butt" stroke-linejoin="round" stroke-opacity="0.8" stroke-dasharray="22.4 9.7" clip-path="url(#clipB)"/>
<line x1="526.60" y1="165.80" x2="526.60" y2="533.80" stroke="#000" stroke-width="2.40" stroke-linecap="square"/>
<line x1="526.60" y1="533.80" x2="894.20" y2="533.80" stroke="#000" stroke-width="2.40" stroke-linecap="square"/>
<line x1="526.60" y1="533.80" x2="526.60" y2="544.40" stroke="#000" stroke-width="2.40" stroke-linecap="butt"/>
<text x="520.35" y="570.35" font-family='"Liberation Sans", sans-serif' font-size="22.53" fill="#000" textLength="12.51" lengthAdjust="spacingAndGlyphs">0</text>
<line x1="616.15" y1="533.80" x2="616.15" y2="544.40" stroke="#000" stroke-width="2.40" stroke-linecap="butt"/>
<text x="602.71" y="570.35" font-family='"Liberation Sans", sans-serif' font-size="22.53" fill="#000" textLength="26.01" lengthAdjust="spacingAndGlyphs">10</text>
<line x1="705.70" y1="533.80" x2="705.70" y2="544.40" stroke="#000" stroke-width="2.40" stroke-linecap="butt"/>
<text x="692.46" y="570.35" font-family='"Liberation Sans", sans-serif' font-size="22.53" fill="#000" textLength="26.25" lengthAdjust="spacingAndGlyphs">20</text>
<line x1="795.25" y1="533.80" x2="795.25" y2="544.40" stroke="#000" stroke-width="2.40" stroke-linecap="butt"/>
<text x="782.35" y="570.35" font-family='"Liberation Sans", sans-serif' font-size="22.53" fill="#000" textLength="25.83" lengthAdjust="spacingAndGlyphs">30</text>
<line x1="884.80" y1="533.80" x2="884.80" y2="544.40" stroke="#000" stroke-width="2.40" stroke-linecap="butt"/>
<text x="871.97" y="570.35" font-family='"Liberation Sans", sans-serif' font-size="22.53" fill="#000" textLength="26.09" lengthAdjust="spacingAndGlyphs">40</text>
<line x1="516.00" y1="527.60" x2="526.60" y2="527.60" stroke="#000" stroke-width="2.40" stroke-linecap="butt"/>
<text x="472.95" y="535.33" font-family='"Liberation Sans", sans-serif' font-size="22.53" fill="#000" textLength="33.14" lengthAdjust="spacingAndGlyphs">0.6</text>
<line x1="516.00" y1="456.82" x2="526.60" y2="456.82" stroke="#000" stroke-width="2.40" stroke-linecap="butt"/>
<text x="473.08" y="464.55" font-family='"Liberation Sans", sans-serif' font-size="22.53" fill="#000" textLength="33.01" lengthAdjust="spacingAndGlyphs">0.8</text>
<line x1="516.00" y1="386.04" x2="526.60" y2="386.04" stroke="#000" stroke-width="2.40" stroke-linecap="butt"/>
<text x="473.17" y="393.77" font-family='"Liberation Sans", sans-serif' font-size="22.53" fill="#000" textLength="32.78" lengthAdjust="spacingAndGlyphs">1.0</text>
<line x1="516.00" y1="315.26" x2="526.60" y2="315.26" stroke="#000" stroke-width="2.40" stroke-linecap="butt"/>
<text x="473.95" y="322.99" font-family='"Liberation Sans", sans-serif' font-size="22.53" fill="#000" textLength="32.24" lengthAdjust="spacingAndGlyphs">1.2</text>
<line x1="516.00" y1="244.48" x2="526.60" y2="244.48" stroke="#000" stroke-width="2.40" stroke-linecap="butt"/>
<text x="472.92" y="252.21" font-family='"Liberation Sans", sans-serif' font-size="22.47" fill="#000" textLength="32.77" lengthAdjust="spacingAndGlyphs">1.4</text>
<line x1="516.00" y1="173.70" x2="526.60" y2="173.70" stroke="#000" stroke-width="2.40" stroke-linecap="butt"/>
<text x="473.03" y="181.43" font-family='"Liberation Sans", sans-serif' font-size="22.53" fill="#000" textLength="33.06" lengthAdjust="spacingAndGlyphs">1.6</text>
<rect x="702.90" y="176.70" width="180.80" height="67.80" fill="#fff" fill-opacity="0.8" stroke="#d4d4d4" stroke-width="2.5"/>
<line x1="711.30" y1="193.60" x2="753.30" y2="193.60" stroke="#d62728" stroke-width="6.06" stroke-linecap="butt" stroke-opacity="0.8" stroke-dasharray="22.4 9.7"/>
<line x1="711.30" y1="224.10" x2="753.30" y2="224.10" stroke="#1f77b4" stroke-width="6.06" stroke-linecap="square" stroke-opacity="0.9"/>
<text x="769.70" y="200.60" font-family='"Liberation Sans", sans-serif' font-size="22.22" fill="#000" textLength="105.38" lengthAdjust="spacingAndGlyphs">measured</text>
<text x="770.25" y="231.80" font-family='"Liberation Sans", sans-serif' font-size="22.47" fill="#000" textLength="39.64" lengthAdjust="spacingAndGlyphs">RFP</text>
<text x="677.37" y="604.60" font-family='"Liberation Sans", sans-serif' font-size="25.53" font-style="italic" fill="#000" textLength="15.50" lengthAdjust="spacingAndGlyphs">R</text>
<text x="694.00" y="604.60" font-family='"Liberation Sans", sans-serif' font-size="25.53" fill="#000" textLength="46.89" lengthAdjust="spacingAndGlyphs">/µm</text>
<text x="454.73" y="381.50" font-family='"Liberation Serif", serif' font-size="26.60" font-style="italic" fill="#000" textLength="25.94" lengthAdjust="spacingAndGlyphs" transform="rotate(-90.00 454.60 381.50)">I/I</text>
<text x="460.33" y="353.40" font-family='"Liberation Serif", serif' font-size="17.00" font-style="italic" fill="#000" textLength="9.14" lengthAdjust="spacingAndGlyphs" transform="rotate(-90.00 461.00 353.40)">0</text>
<path d="M1017.60 182.00 C1017.98 182.02 1018.77 181.15 1019.90 182.10 C1021.03 183.05 1023.02 186.40 1024.40 187.70 C1025.78 189.00 1026.92 188.90 1028.20 189.90 C1029.48 190.90 1030.72 192.42 1032.10 193.70 C1033.48 194.98 1035.03 196.22 1036.50 197.60 C1037.97 198.98 1039.43 201.63 1040.90 202.00 C1042.37 202.37 1043.65 200.53 1045.30 199.80 C1046.95 199.07 1049.32 197.60 1050.80 197.60 C1052.28 197.60 1052.90 198.15 1054.20 199.80 C1055.50 201.45 1057.13 204.73 1058.60 207.50 C1060.07 210.27 1061.35 213.27 1063.00 216.40 C1064.65 219.53 1066.67 223.53 1068.50 226.30 C1070.33 229.07 1071.78 230.23 1074.00 233.00 C1076.22 235.77 1079.40 239.42 1081.80 242.90 C1084.20 246.38 1086.20 249.85 1088.40 253.90 C1090.60 257.95 1092.80 262.97 1095.00 267.20 C1097.20 271.43 1100.03 276.43 1101.60 279.30 C1103.17 282.17 1102.47 280.98 1104.40 284.40 C1106.33 287.82 1111.00 295.77 1113.20 299.80 C1115.40 303.83 1116.13 305.47 1117.60 308.60 C1119.07 311.73 1120.72 315.10 1122.00 318.60 C1123.28 322.10 1124.20 325.73 1125.30 329.60 C1126.40 333.47 1127.48 337.75 1128.60 341.80 C1129.72 345.85 1130.88 349.67 1132.00 353.90 C1133.12 358.13 1134.38 362.78 1135.30 367.20 C1136.22 371.62 1136.60 373.67 1137.50 380.40 C1138.40 387.13 1139.48 398.47 1140.70 407.60 C1141.92 416.73 1143.30 426.00 1144.80 435.20 C1146.30 444.40 1148.08 454.07 1149.70 462.80 C1151.32 471.53 1152.78 480.25 1154.50 487.60 C1156.22 494.95 1158.17 502.42 1160.00 506.90 C1161.83 511.38 1163.67 513.00 1165.50 514.50 C1167.33 516.00 1168.93 516.25 1171.00 515.90 C1173.07 515.55 1174.90 514.58 1177.90 512.40 C1180.90 510.22 1184.85 506.48 1189.00 502.80 C1193.15 499.12 1198.20 494.67 1202.80 490.30 C1207.40 485.93 1212.32 481.33 1216.60 476.60 C1220.88 471.87 1225.13 466.20 1228.50 461.90 C1231.87 457.60 1234.65 454.48 1236.80 450.80 C1238.95 447.12 1239.87 443.63 1241.40 439.80 C1242.93 435.97 1244.62 431.63 1246.00 427.80 C1247.38 423.97 1248.47 420.02 1249.70 416.80 C1250.93 413.58 1251.87 410.57 1253.40 408.50 C1254.93 406.43 1256.30 405.47 1258.90 404.40 C1261.50 403.33 1265.75 402.68 1269.00 402.10 C1272.25 401.52 1276.83 401.10 1278.40 400.90" fill="none" stroke="#1f77b4" stroke-width="6.06" stroke-linecap="square" stroke-linejoin="round" stroke-opacity="0.9" clip-path="url(#clipC)"/>
<line x1="1017.60" y1="165.80" x2="1017.60" y2="533.80" stroke="#000" stroke-width="2.40" stroke-linecap="square"/>
<line x1="1017.60" y1="533.80" x2="1385.20" y2="533.80" stroke="#000" stroke-width="2.40" stroke-linecap="square"/>
<line x1="1017.60" y1="533.80" x2="1017.60" y2="544.40" stroke="#000" stroke-width="2.40" stroke-linecap="butt"/>
<text x="1011.35" y="570.35" font-family='"Liberation Sans", sans-serif' font-size="22.53" fill="#000" textLength="12.51" lengthAdjust="spacingAndGlyphs">0</text>
<line x1="1107.15" y1="533.80" x2="1107.15" y2="544.40" stroke="#000" stroke-width="2.40" stroke-linecap="butt"/>
<text x="1093.71" y="570.35" font-family='"Liberation Sans", sans-serif' font-size="22.53" fill="#000" textLength="26.01" lengthAdjust="spacingAndGlyphs">10</text>
<line x1="1196.70" y1="533.80" x2="1196.70" y2="544.40" stroke="#000" stroke-width="2.40" stroke-linecap="butt"/>
<text x="1183.46" y="570.35" font-family='"Liberation Sans", sans-serif' font-size="22.53" fill="#000" textLength="26.25" lengthAdjust="spacingAndGlyphs">20</text>
<line x1="1286.25" y1="533.80" x2="1286.25" y2="544.40" stroke="#000" stroke-width="2.40" stroke-linecap="butt"/>
<text x="1273.35" y="570.35" font-family='"Liberation Sans", sans-serif' font-size="22.53" fill="#000" textLength="25.83" lengthAdjust="spacingAndGlyphs">30</text>
<line x1="1375.80" y1="533.80" x2="1375.80" y2="544.40" stroke="#000" stroke-width="2.40" stroke-linecap="butt"/>
<text x="1362.97" y="570.35" font-family='"Liberation Sans", sans-serif' font-size="22.53" fill="#000" textLength="26.09" lengthAdjust="spacingAndGlyphs">40</text>
<line x1="1007.00" y1="486.50" x2="1017.60" y2="486.50" stroke="#000" stroke-width="2.40" stroke-linecap="butt"/>
<text x="967.57" y="494.23" font-family='"Liberation Sans", sans-serif' font-size="22.47" fill="#000" textLength="29.77" lengthAdjust="spacingAndGlyphs">−1</text>
<line x1="1007.00" y1="400.10" x2="1017.60" y2="400.10" stroke="#000" stroke-width="2.40" stroke-linecap="butt"/>
<text x="984.38" y="407.83" font-family='"Liberation Sans", sans-serif' font-size="22.53" fill="#000" textLength="12.51" lengthAdjust="spacingAndGlyphs">0</text>
<line x1="1007.00" y1="313.70" x2="1017.60" y2="313.70" stroke="#000" stroke-width="2.40" stroke-linecap="butt"/>
<text x="985.07" y="321.43" font-family='"Liberation Sans", sans-serif' font-size="22.47" fill="#000" textLength="12.03" lengthAdjust="spacingAndGlyphs">1</text>
<line x1="1007.00" y1="227.30" x2="1017.60" y2="227.30" stroke="#000" stroke-width="2.40" stroke-linecap="butt"/>
<text x="985.04" y="235.03" font-family='"Liberation Sans", sans-serif' font-size="22.53" fill="#000" textLength="12.06" lengthAdjust="spacingAndGlyphs">2</text>
<rect x="1259.70" y="176.60" width="114.70" height="36.90" fill="#fff" fill-opacity="0.8" stroke="#d4d4d4" stroke-width="2.5"/>
<line x1="1268.00" y1="193.30" x2="1310.10" y2="193.30" stroke="#1f77b4" stroke-width="6.06" stroke-linecap="square" stroke-opacity="0.9"/>
<text x="1326.75" y="200.80" font-family='"Liberation Sans", sans-serif' font-size="22.47" fill="#000" textLength="39.64" lengthAdjust="spacingAndGlyphs">RFP</text>
<text x="1168.37" y="604.60" font-family='"Liberation Sans", sans-serif' font-size="25.53" font-style="italic" fill="#000" textLength="15.50" lengthAdjust="spacingAndGlyphs">R</text>
<text x="1185.00" y="604.60" font-family='"Liberation Sans", sans-serif' font-size="25.53" fill="#000" textLength="46.89" lengthAdjust="spacingAndGlyphs">/µm</text>
<text x="963.26" y="382.20" font-family='"Liberation Sans", sans-serif' font-size="23.00" font-style="italic" fill="#000" textLength="16.08" lengthAdjust="spacingAndGlyphs" transform="rotate(-90.00 964.20 382.20)">ϕ</text>
<line x1="942.50" y1="382.50" x2="942.50" y2="367.60" stroke="#000" stroke-width="1.30" stroke-linecap="butt"/>
<text x="964.20" y="366.70" font-family='"Liberation Sans", sans-serif' font-size="25.53" fill="#000" textLength="47.53" lengthAdjust="spacingAndGlyphs" transform="rotate(-90.00 964.20 366.70)">/rad</text>
<path d="M526.60 678.04 C526.98 678.06 527.77 677.24 528.90 678.13 C530.03 679.03 532.02 682.20 533.40 683.43 C534.78 684.66 535.92 684.56 537.20 685.51 C538.48 686.45 539.72 687.89 541.10 689.10 C542.48 690.31 544.03 691.48 545.50 692.79 C546.97 694.09 548.43 696.60 549.90 696.95 C551.37 697.29 552.65 695.56 554.30 694.87 C555.95 694.17 558.32 692.79 559.80 692.79 C561.28 692.79 561.90 693.31 563.20 694.87 C564.50 696.43 566.13 699.53 567.60 702.14 C569.07 704.76 570.35 707.59 572.00 710.56 C573.65 713.52 575.67 717.30 577.50 719.91 C579.33 722.53 580.78 723.63 583.00 726.25 C585.22 728.86 588.40 732.31 590.80 735.61 C593.20 738.90 595.20 742.18 597.40 746.00 C599.60 749.83 601.80 754.57 604.00 758.58 C606.20 762.58 609.03 767.30 610.60 770.01 C612.17 772.72 611.47 771.60 613.40 774.83 C615.33 778.06 620.00 785.58 622.20 789.39 C624.40 793.20 625.13 794.75 626.60 797.71 C628.07 800.67 629.72 803.85 631.00 807.16 C632.28 810.47 633.20 813.90 634.30 817.56 C635.40 821.21 636.48 825.26 637.60 829.09 C638.72 832.92 639.88 836.53 641.00 840.53 C642.12 844.53 643.38 848.93 644.30 853.10 C645.22 857.28 645.60 859.21 646.50 865.58 C647.40 871.94 648.48 882.66 649.70 891.29 C650.92 899.92 652.30 908.68 653.80 917.38 C655.30 926.07 657.08 935.21 658.70 943.47 C660.32 951.72 661.78 959.96 663.50 966.91 C665.22 973.86 667.17 980.92 669.00 985.15 C670.83 989.39 672.67 990.92 674.50 992.34 C676.33 993.76 677.93 993.99 680.00 993.66 C682.07 993.33 683.90 992.42 686.90 990.35 C689.90 988.29 693.85 984.76 698.00 981.28 C702.15 977.80 707.20 973.59 711.80 969.46 C716.40 965.33 721.32 960.99 725.60 956.51 C729.88 952.04 734.13 946.68 737.50 942.62 C740.87 938.55 743.65 935.61 745.80 932.12 C747.95 928.64 748.87 925.35 750.40 921.73 C751.93 918.10 753.62 914.01 755.00 910.38 C756.38 906.76 757.47 903.03 758.70 899.99 C759.93 896.95 760.87 894.09 762.40 892.14 C763.93 890.19 765.30 889.27 767.90 888.26 C770.50 887.26 774.75 886.64 778.00 886.09 C781.25 885.54 785.83 885.15 787.40 884.96" fill="none" stroke="#1f77b4" stroke-width="6.06" stroke-linecap="square" stroke-linejoin="round" stroke-opacity="0.9" clip-path="url(#clipE)"/>
<path d="M526.60 657.50 C527.07 657.90 528.67 659.05 529.40 659.90 C530.13 660.75 530.17 660.93 531.00 662.60 C531.83 664.27 533.10 667.87 534.40 669.90 C535.70 671.93 537.33 673.52 538.80 674.80 C540.27 676.08 541.73 676.40 543.20 677.60 C544.67 678.80 546.22 680.80 547.60 682.00 C548.98 683.20 550.03 684.80 551.50 684.80 C552.97 684.80 554.85 682.65 556.40 682.00 C557.95 681.35 559.50 680.72 560.80 680.90 C562.10 681.08 562.90 681.63 564.20 683.10 C565.50 684.57 566.95 686.93 568.60 689.70 C570.25 692.47 572.27 696.38 574.10 699.70 C575.93 703.02 577.58 706.67 579.60 709.60 C581.62 712.53 584.17 715.08 586.20 717.30 C588.23 719.52 589.95 720.50 591.80 722.90 C593.65 725.30 595.28 728.40 597.30 731.70 C599.32 735.00 601.88 739.20 603.90 742.70 C605.92 746.20 607.65 749.47 609.40 752.70 C611.15 755.93 612.63 759.13 614.40 762.10 C616.17 765.07 617.97 767.52 620.00 770.50 C622.03 773.48 624.68 776.67 626.60 780.00 C628.52 783.33 629.83 786.82 631.50 790.50 C633.17 794.18 634.83 796.50 636.60 802.10 C638.37 807.70 640.27 816.75 642.10 824.10 C643.93 831.45 645.95 838.83 647.60 846.20 C649.25 853.57 650.72 860.93 652.00 868.30 C653.28 875.67 654.30 883.63 655.30 890.40 C656.30 897.17 656.57 901.40 658.00 908.90 C659.43 916.40 661.93 927.78 663.90 935.40 C665.87 943.02 667.83 949.68 669.80 954.60 C671.77 959.52 673.75 962.82 675.70 964.90 C677.65 966.98 678.80 967.10 681.50 967.10 C684.20 967.10 688.22 966.25 691.90 964.90 C695.58 963.55 699.18 961.47 703.60 959.00 C708.02 956.53 713.48 953.53 718.40 950.10 C723.32 946.67 729.63 941.58 733.10 938.40 C736.57 935.22 736.65 934.08 739.20 931.00 C741.75 927.92 745.95 923.28 748.40 919.90 C750.85 916.52 752.07 914.22 753.90 910.70 C755.73 907.18 757.55 901.87 759.40 898.80 C761.25 895.73 763.00 893.83 765.00 892.30 C767.00 890.77 768.80 890.37 771.40 889.60 C774.00 888.83 777.38 888.25 780.60 887.70 C783.82 887.15 787.17 886.83 790.70 886.30 C794.23 885.77 798.12 884.65 801.80 884.50 C805.48 884.35 809.43 885.32 812.80 885.40 C816.17 885.48 818.17 885.30 822.00 885.00 C825.83 884.70 831.13 883.68 835.80 883.60 C840.47 883.52 845.13 884.43 850.00 884.50 C854.87 884.57 860.00 884.17 865.00 884.00 C870.00 883.83 875.33 883.75 880.00 883.50 C884.67 883.25 890.83 882.67 893.00 882.50" fill="none" stroke="#ff7f0e" stroke-width="6.06" stroke-linecap="square" stroke-linejoin="round" stroke-opacity="0.7" clip-path="url(#clipE)"/>
<line x1="526.60" y1="643.20" x2="526.60" y2="1010.80" stroke="#000" stroke-width="2.40" stroke-linecap="square"/>
<line x1="526.60" y1="1010.80" x2="894.20" y2="1010.80" stroke="#000" stroke-width="2.40" stroke-linecap="square"/>
<line x1="526.60" y1="1010.80" x2="526.60" y2="1021.40" stroke="#000" stroke-width="2.40" stroke-linecap="butt"/>
<text x="520.35" y="1047.35" font-family='"Liberation Sans", sans-serif' font-size="22.53" fill="#000" textLength="12.51" lengthAdjust="spacingAndGlyphs">0</text>
<line x1="616.15" y1="1010.80" x2="616.15" y2="1021.40" stroke="#000" stroke-width="2.40" stroke-linecap="butt"/>
<text x="602.71" y="1047.35" font-family='"Liberation Sans", sans-serif' font-size="22.53" fill="#000" textLength="26.01" lengthAdjust="spacingAndGlyphs">10</text>
<line x1="705.70" y1="1010.80" x2="705.70" y2="1021.40" stroke="#000" stroke-width="2.40" stroke-linecap="butt"/>
<text x="692.46" y="1047.35" font-family='"Liberation Sans", sans-serif' font-size="22.53" fill="#000" textLength="26.25" lengthAdjust="spacingAndGlyphs">20</text>
<line x1="795.25" y1="1010.80" x2="795.25" y2="1021.40" stroke="#000" stroke-width="2.40" stroke-linecap="butt"/>
<text x="782.35" y="1047.35" font-family='"Liberation Sans", sans-serif' font-size="22.53" fill="#000" textLength="25.83" lengthAdjust="spacingAndGlyphs">30</text>
<line x1="884.80" y1="1010.80" x2="884.80" y2="1021.40" stroke="#000" stroke-width="2.40" stroke-linecap="butt"/>
<text x="871.97" y="1047.35" font-family='"Liberation Sans", sans-serif' font-size="22.53" fill="#000" textLength="26.09" lengthAdjust="spacingAndGlyphs">40</text>
<line x1="516.00" y1="965.87" x2="526.60" y2="965.87" stroke="#000" stroke-width="2.40" stroke-linecap="butt"/>
<text x="476.57" y="973.60" font-family='"Liberation Sans", sans-serif' font-size="22.47" fill="#000" textLength="29.77" lengthAdjust="spacingAndGlyphs">−1</text>
<line x1="516.00" y1="884.20" x2="526.60" y2="884.20" stroke="#000" stroke-width="2.40" stroke-linecap="butt"/>
<text x="493.38" y="891.93" font-family='"Liberation Sans", sans-serif' font-size="22.53" fill="#000" textLength="12.51" lengthAdjust="spacingAndGlyphs">0</text>
<line x1="516.00" y1="802.53" x2="526.60" y2="802.53" stroke="#000" stroke-width="2.40" stroke-linecap="butt"/>
<text x="494.07" y="810.26" font-family='"Liberation Sans", sans-serif' font-size="22.47" fill="#000" textLength="12.03" lengthAdjust="spacingAndGlyphs">1</text>
<line x1="516.00" y1="720.86" x2="526.60" y2="720.86" stroke="#000" stroke-width="2.40" stroke-linecap="butt"/>
<text x="494.04" y="728.59" font-family='"Liberation Sans", sans-serif' font-size="22.53" fill="#000" textLength="12.06" lengthAdjust="spacingAndGlyphs">2</text>
<rect x="715.60" y="654.00" width="168.20" height="69.60" fill="#fff" fill-opacity="0.8" stroke="#d4d4d4" stroke-width="2.5"/>
<line x1="723.80" y1="670.90" x2="766.00" y2="670.90" stroke="#1f77b4" stroke-width="6.06" stroke-linecap="square" stroke-opacity="0.9"/>
<line x1="723.80" y1="701.30" x2="766.00" y2="701.30" stroke="#ff7f0e" stroke-width="6.06" stroke-linecap="square" stroke-opacity="0.7"/>
<text x="782.15" y="677.80" font-family='"Liberation Sans", sans-serif' font-size="22.47" fill="#000" textLength="39.64" lengthAdjust="spacingAndGlyphs">RFP</text>
<text x="783.10" y="709.10" font-family='"Liberation Sans", sans-serif' font-size="22.47" fill="#000" textLength="27.55" lengthAdjust="spacingAndGlyphs">AP</text>
<text x="677.37" y="1081.60" font-family='"Liberation Sans", sans-serif' font-size="25.53" font-style="italic" fill="#000" textLength="15.50" lengthAdjust="spacingAndGlyphs">R</text>
<text x="694.00" y="1081.60" font-family='"Liberation Sans", sans-serif' font-size="25.53" fill="#000" textLength="46.89" lengthAdjust="spacingAndGlyphs">/µm</text>
<text x="471.76" y="859.60" font-family='"Liberation Sans", sans-serif' font-size="23.00" font-style="italic" fill="#000" textLength="16.08" lengthAdjust="spacingAndGlyphs" transform="rotate(-90.00 472.70 859.60)">ϕ</text>
<line x1="451.00" y1="859.90" x2="451.00" y2="845.00" stroke="#000" stroke-width="1.30" stroke-linecap="butt"/>
<text x="472.70" y="844.10" font-family='"Liberation Sans", sans-serif' font-size="25.53" fill="#000" textLength="47.53" lengthAdjust="spacingAndGlyphs" transform="rotate(-90.00 472.70 844.10)">/rad</text>
<line x1="1150.60" y1="692.90" x2="1150.60" y2="1010.30" stroke="#6f6f6f" stroke-width="4.60" stroke-linecap="butt" stroke-dasharray="4.6 4.52"/>
<line x1="1249.60" y1="692.90" x2="1249.60" y2="1010.30" stroke="#6f6f6f" stroke-width="4.60" stroke-linecap="butt" stroke-dasharray="4.6 4.52"/>
<path d="M1029.00 660.10 L1034.50 660.10 L1034.90 671.70 L1038.50 673.30 L1041.70 677.40 L1046.50 677.40 L1049.80 673.30 L1050.20 668.50 L1053.80 668.10 L1062.60 668.10 L1063.80 673.30 L1068.30 674.10 L1073.10 675.70 L1073.90 681.40 L1078.70 682.60 L1090.00 683.00 L1093.20 686.20 L1094.80 691.00 L1096.40 695.10 L1096.80 704.70 L1099.60 707.10 L1101.30 711.10 L1105.30 707.90 L1108.50 709.50 L1110.90 711.90 L1113.30 706.30 L1114.10 699.90 L1117.30 703.10 L1119.00 701.50 L1121.40 686.20 L1123.80 681.40 L1126.20 683.80 L1127.80 687.00 L1132.60 690.20 L1135.00 695.10 L1137.50 702.30 L1139.10 714.40 L1140.70 727.60 L1144.80 769.00 L1147.60 810.30 L1150.30 837.90 L1153.10 879.30 L1157.20 915.90 L1159.60 939.80 L1163.20 963.70 L1167.90 980.40 L1172.70 990.60 L1176.30 991.20 L1180.50 994.80 L1184.70 989.40 L1190.70 988.80 L1194.20 989.40 L1197.80 986.40 L1202.60 990.00 L1208.60 984.60 L1215.80 984.00 L1221.70 982.20 L1226.50 981.00 L1231.30 981.60 L1237.30 984.00 L1243.30 980.40 L1246.80 966.10 L1250.40 947.00 L1254.00 930.20 L1257.60 923.00 L1263.60 919.50 L1267.20 920.10 L1270.80 915.90 L1275.50 917.10 L1277.90 914.70 L1281.00 915.90" fill="none" stroke="#1f77b4" stroke-width="6.06" stroke-linecap="butt" stroke-linejoin="round" stroke-opacity="0.9" clip-path="url(#clipF)"/>
<line x1="1150.60" y1="692.90" x2="1150.60" y2="1010.30" stroke="#6f6f6f" stroke-width="4.60" stroke-linecap="butt" stroke-dasharray="4.6 4.52" stroke-opacity="0.9"/>
<line x1="1249.60" y1="692.90" x2="1249.60" y2="1010.30" stroke="#6f6f6f" stroke-width="4.60" stroke-linecap="butt" stroke-dasharray="4.6 4.52" stroke-opacity="0.9"/>
<line x1="1017.70" y1="643.20" x2="1017.70" y2="1010.80" stroke="#000" stroke-width="2.40" stroke-linecap="square"/>
<line x1="1017.70" y1="1010.80" x2="1385.30" y2="1010.80" stroke="#000" stroke-width="2.40" stroke-linecap="square"/>
<line x1="1385.30" y1="643.20" x2="1385.30" y2="1010.80" stroke="#000" stroke-width="2.40" stroke-linecap="square"/>
<line x1="1017.70" y1="1010.80" x2="1017.70" y2="1021.40" stroke="#000" stroke-width="2.40" stroke-linecap="butt"/>
<text x="1011.45" y="1047.35" font-family='"Liberation Sans", sans-serif' font-size="22.53" fill="#000" textLength="12.51" lengthAdjust="spacingAndGlyphs">0</text>
<line x1="1107.25" y1="1010.80" x2="1107.25" y2="1021.40" stroke="#000" stroke-width="2.40" stroke-linecap="butt"/>
<text x="1093.81" y="1047.35" font-family='"Liberation Sans", sans-serif' font-size="22.53" fill="#000" textLength="26.01" lengthAdjust="spacingAndGlyphs">10</text>
<line x1="1196.80" y1="1010.80" x2="1196.80" y2="1021.40" stroke="#000" stroke-width="2.40" stroke-linecap="butt"/>
<text x="1183.56" y="1047.35" font-family='"Liberation Sans", sans-serif' font-size="22.53" fill="#000" textLength="26.25" lengthAdjust="spacingAndGlyphs">20</text>
<line x1="1286.35" y1="1010.80" x2="1286.35" y2="1021.40" stroke="#000" stroke-width="2.40" stroke-linecap="butt"/>
<text x="1273.45" y="1047.35" font-family='"Liberation Sans", sans-serif' font-size="22.53" fill="#000" textLength="25.83" lengthAdjust="spacingAndGlyphs">30</text>
<line x1="1375.90" y1="1010.80" x2="1375.90" y2="1021.40" stroke="#000" stroke-width="2.40" stroke-linecap="butt"/>
<text x="1363.07" y="1047.35" font-family='"Liberation Sans", sans-serif' font-size="22.53" fill="#000" textLength="26.09" lengthAdjust="spacingAndGlyphs">40</text>
<line x1="1007.10" y1="967.82" x2="1017.70" y2="967.82" stroke="#000" stroke-width="2.40" stroke-linecap="butt"/>
<text x="954.08" y="975.54" font-family='"Liberation Sans", sans-serif' font-size="22.53" fill="#000" textLength="43.05" lengthAdjust="spacingAndGlyphs">−25</text>
<line x1="1007.10" y1="914.00" x2="1017.70" y2="914.00" stroke="#000" stroke-width="2.40" stroke-linecap="butt"/>
<text x="984.48" y="921.73" font-family='"Liberation Sans", sans-serif' font-size="22.53" fill="#000" textLength="12.51" lengthAdjust="spacingAndGlyphs">0</text>
<line x1="1007.10" y1="860.18" x2="1017.70" y2="860.18" stroke="#000" stroke-width="2.40" stroke-linecap="butt"/>
<text x="971.32" y="867.91" font-family='"Liberation Sans", sans-serif' font-size="22.53" fill="#000" textLength="25.71" lengthAdjust="spacingAndGlyphs">25</text>
<line x1="1007.10" y1="806.37" x2="1017.70" y2="806.37" stroke="#000" stroke-width="2.40" stroke-linecap="butt"/>
<text x="971.20" y="814.09" font-family='"Liberation Sans", sans-serif' font-size="22.53" fill="#000" textLength="25.83" lengthAdjust="spacingAndGlyphs">50</text>
<line x1="1007.10" y1="752.55" x2="1017.70" y2="752.55" stroke="#000" stroke-width="2.40" stroke-linecap="butt"/>
<text x="971.58" y="760.27" font-family='"Liberation Sans", sans-serif' font-size="22.47" fill="#000" textLength="25.44" lengthAdjust="spacingAndGlyphs">75</text>
<line x1="1007.10" y1="698.73" x2="1017.70" y2="698.73" stroke="#000" stroke-width="2.40" stroke-linecap="butt"/>
<text x="957.51" y="706.46" font-family='"Liberation Sans", sans-serif' font-size="22.53" fill="#000" textLength="39.56" lengthAdjust="spacingAndGlyphs">100</text>
<line x1="1007.10" y1="644.91" x2="1017.70" y2="644.91" stroke="#000" stroke-width="2.40" stroke-linecap="butt"/>
<text x="958.03" y="652.64" font-family='"Liberation Sans", sans-serif' font-size="22.53" fill="#000" textLength="39.02" lengthAdjust="spacingAndGlyphs">125</text>
<line x1="1385.30" y1="686.20" x2="1395.90" y2="686.20" stroke="#000" stroke-width="2.40" stroke-linecap="butt"/>
<text x="1406.88" y="693.93" font-family='"Liberation Sans", sans-serif' font-size="22.53" fill="#000" textLength="46.40" lengthAdjust="spacingAndGlyphs">0.00</text>
<line x1="1385.30" y1="743.10" x2="1395.90" y2="743.10" stroke="#000" stroke-width="2.40" stroke-linecap="butt"/>
<text x="1406.89" y="750.83" font-family='"Liberation Sans", sans-serif' font-size="22.53" fill="#000" textLength="45.88" lengthAdjust="spacingAndGlyphs">0.25</text>
<line x1="1385.30" y1="800.00" x2="1395.90" y2="800.00" stroke="#000" stroke-width="2.40" stroke-linecap="butt"/>
<text x="1406.88" y="807.73" font-family='"Liberation Sans", sans-serif' font-size="22.53" fill="#000" textLength="46.40" lengthAdjust="spacingAndGlyphs">0.50</text>
<line x1="1385.30" y1="856.90" x2="1395.90" y2="856.90" stroke="#000" stroke-width="2.40" stroke-linecap="butt"/>
<text x="1406.89" y="864.63" font-family='"Liberation Sans", sans-serif' font-size="22.53" fill="#000" textLength="45.88" lengthAdjust="spacingAndGlyphs">0.75</text>
<line x1="1385.30" y1="913.80" x2="1395.90" y2="913.80" stroke="#000" stroke-width="2.40" stroke-linecap="butt"/>
<text x="1405.95" y="921.53" font-family='"Liberation Sans", sans-serif' font-size="22.53" fill="#000" textLength="46.32" lengthAdjust="spacingAndGlyphs">1.00</text>
<line x1="1385.30" y1="970.70" x2="1395.90" y2="970.70" stroke="#000" stroke-width="2.40" stroke-linecap="butt"/>
<text x="1405.97" y="978.43" font-family='"Liberation Sans", sans-serif' font-size="22.53" fill="#000" textLength="45.79" lengthAdjust="spacingAndGlyphs">1.25</text>
<rect x="1238.40" y="647.50" width="115.40" height="37.20" fill="#fff" fill-opacity="0.8" stroke="#d4d4d4" stroke-width="2.5"/>
<line x1="1241.90" y1="664.60" x2="1284.10" y2="664.60" stroke="#1f77b4" stroke-width="6.06" stroke-linecap="square" stroke-opacity="0.9"/>
<text x="1301.05" y="672.10" font-family='"Liberation Sans", sans-serif' font-size="22.47" fill="#000" textLength="39.64" lengthAdjust="spacingAndGlyphs">RFP</text>
<text x="1168.47" y="1081.60" font-family='"Liberation Sans", sans-serif' font-size="25.53" font-style="italic" fill="#000" textLength="15.50" lengthAdjust="spacingAndGlyphs">R</text>
<text x="1185.10" y="1081.60" font-family='"Liberation Sans", sans-serif' font-size="25.53" fill="#000" textLength="46.89" lengthAdjust="spacingAndGlyphs">/µm</text>
<line x1="1065.00" y1="828.20" x2="1030.10" y2="828.20" stroke="#727272" stroke-width="3.00" stroke-linecap="butt"/>
<polygon points="1022.10,828.20 1031.10,823.60 1031.10,832.80" fill="#727272"/>
<line x1="1099.30" y1="828.20" x2="1134.50" y2="828.20" stroke="#727272" stroke-width="3.00" stroke-linecap="butt"/>
<polygon points="1142.50,828.20 1133.50,823.60 1133.50,832.80" fill="#727272"/>
<line x1="1183.50" y1="828.20" x2="1166.00" y2="828.20" stroke="#727272" stroke-width="3.00" stroke-linecap="butt"/>
<polygon points="1158.00,828.20 1167.00,823.60 1167.00,832.80" fill="#727272"/>
<line x1="1217.20" y1="828.20" x2="1235.00" y2="828.20" stroke="#727272" stroke-width="3.00" stroke-linecap="butt"/>
<polygon points="1243.00,828.20 1234.00,823.60 1234.00,832.80" fill="#727272"/>
<line x1="1303.40" y1="828.20" x2="1268.30" y2="828.20" stroke="#727272" stroke-width="3.00" stroke-linecap="butt"/>
<polygon points="1260.30,828.20 1269.30,823.60 1269.30,832.80" fill="#727272"/>
<line x1="1337.30" y1="828.20" x2="1372.30" y2="828.20" stroke="#727272" stroke-width="3.00" stroke-linecap="butt"/>
<polygon points="1380.30,828.20 1371.30,823.60 1371.30,832.80" fill="#727272"/>
<text x="1088.81" y="863.00" font-family='"Liberation Sans", sans-serif' font-size="22.37" fill="#000" textLength="72.70" lengthAdjust="spacingAndGlyphs" transform="rotate(-90.00 1090.30 863.00)">bubble</text>
<text x="1208.24" y="885.50" font-family='"Liberation Sans", sans-serif' font-size="22.37" fill="#000" textLength="116.23" lengthAdjust="spacingAndGlyphs" transform="rotate(-90.00 1208.90 885.50)">shockwave</text>
<text x="1327.21" y="877.20" font-family='"Liberation Sans", sans-serif' font-size="22.37" fill="#000" textLength="100.60" lengthAdjust="spacingAndGlyphs" transform="rotate(-90.00 1328.30 877.20)">eq. water</text>
<text x="949.46" y="916.70" font-family='"Liberation Sans", sans-serif' font-size="25.53" font-style="italic" fill="#000" textLength="15.84" lengthAdjust="spacingAndGlyphs" transform="rotate(-90.00 950.30 916.70)">ϕ</text>
<text x="950.30" y="901.00" font-family='"Liberation Sans", sans-serif' font-size="25.53" fill="#000" textLength="126.31" lengthAdjust="spacingAndGlyphs" transform="rotate(-90.00 950.30 901.00)">/(mrad·µm</text>
<text x="940.13" y="772.80" font-family='"Liberation Sans", sans-serif' font-size="18.67" fill="#000" textLength="23.63" lengthAdjust="spacingAndGlyphs" transform="rotate(-90.00 941.10 772.80)">−1</text>
<text x="950.07" y="747.00" font-family='"Liberation Sans", sans-serif' font-size="25.53" fill="#000" textLength="7.69" lengthAdjust="spacingAndGlyphs" transform="rotate(-90.00 950.30 747.00)">)</text>
<text x="1487.43" y="889.20" font-family='"Liberation Sans", sans-serif' font-size="25.53" font-style="italic" fill="#000" textLength="12.29" lengthAdjust="spacingAndGlyphs" transform="rotate(-90.00 1486.90 889.20)">ρ</text>
<text x="1486.90" y="875.80" font-family='"Liberation Sans", sans-serif' font-size="25.53" fill="#000" textLength="76.51" lengthAdjust="spacingAndGlyphs" transform="rotate(-90.00 1486.90 875.80)">/(g·cm</text>
<text x="1477.01" y="797.70" font-family='"Liberation Sans", sans-serif' font-size="18.67" fill="#000" textLength="24.07" lengthAdjust="spacingAndGlyphs" transform="rotate(-90.00 1478.00 797.70)">−3</text>
<text x="1486.69" y="771.60" font-family='"Liberation Sans", sans-serif' font-size="25.53" fill="#000" textLength="7.18" lengthAdjust="spacingAndGlyphs" transform="rotate(-90.00 1486.90 771.60)">)</text>
<text x="207.43" y="32.70" font-family='"Liberation Sans", sans-serif' font-size="25.53" fill="#3585bc" textLength="329.47" lengthAdjust="spacingAndGlyphs">Radially Fitted Phase (RFP):</text>
<text x="544.28" y="32.40" font-family='"Liberation Sans", sans-serif' font-size="24.20" fill="#3585bc" textLength="83.35" lengthAdjust="spacingAndGlyphs">argmin</text>
<line x1="579.10" y1="45.00" x2="593.10" y2="45.00" stroke="#3585bc" stroke-width="1.30" stroke-linecap="butt"/>
<text x="579.69" y="62.50" font-family='"Liberation Serif", serif' font-size="19.00" font-style="italic" fill="#3585bc" textLength="13.44" lengthAdjust="spacingAndGlyphs">ϕ</text>
<line x1="637.60" y1="7.30" x2="637.60" y2="43.50" stroke="#3585bc" stroke-width="1.50" stroke-linecap="butt"/>
<line x1="647.20" y1="7.30" x2="647.20" y2="43.50" stroke="#3585bc" stroke-width="1.50" stroke-linecap="butt"/>
<line x1="808.80" y1="7.30" x2="808.80" y2="43.50" stroke="#3585bc" stroke-width="1.50" stroke-linecap="butt"/>
<line x1="819.50" y1="7.30" x2="819.50" y2="43.50" stroke="#3585bc" stroke-width="1.50" stroke-linecap="butt"/>
<text x="653.85" y="32.20" font-family='"Liberation Serif", serif' font-size="28.80" font-style="italic" fill="#3585bc" textLength="11.80" lengthAdjust="spacingAndGlyphs">I</text>
<text x="665.38" y="36.90" font-family='"Liberation Sans", sans-serif' font-size="18.00" fill="#3585bc" textLength="46.60" lengthAdjust="spacingAndGlyphs">meas</text>
<line x1="721.70" y1="24.80" x2="739.80" y2="24.80" stroke="#3585bc" stroke-width="1.40" stroke-linecap="butt"/>
<text x="749.95" y="32.60" font-family='"Liberation Serif", serif' font-size="28.80" font-style="italic" fill="#3585bc" textLength="11.80" lengthAdjust="spacingAndGlyphs">I</text>
<text x="765.41" y="34.80" font-family='"Liberation Serif", serif' font-size="30.00" fill="#3585bc" textLength="9.54" lengthAdjust="spacingAndGlyphs">(</text>
<line x1="775.50" y1="8.30" x2="793.40" y2="8.30" stroke="#3585bc" stroke-width="1.30" stroke-linecap="butt"/>
<text x="775.78" y="32.50" font-family='"Liberation Serif", serif' font-size="26.00" font-style="italic" fill="#3585bc" textLength="17.69" lengthAdjust="spacingAndGlyphs">ϕ</text>
<text x="793.03" y="34.80" font-family='"Liberation Serif", serif' font-size="30.00" fill="#3585bc" textLength="9.70" lengthAdjust="spacingAndGlyphs">)</text>
<text x="823.81" y="13.40" font-family='"Liberation Serif", serif' font-size="17.00" fill="#3585bc" textLength="12.36" lengthAdjust="spacingAndGlyphs">2</text>
<path d="M170.70 177.70 L170.70 110.30 L664.50 110.30" fill="none" stroke="#b4384a" stroke-width="4.50" stroke-linecap="round" stroke-linejoin="round"/>
<line x1="664.50" y1="70.00" x2="664.50" y2="150.00" stroke="#b4384a" stroke-width="4.50" stroke-linecap="butt"/>
<polygon points="664.50,58.80 657.50,72.90 671.50,72.90" fill="#b4384a"/>
<polygon points="664.50,161.00 657.50,147.40 671.50,147.40" fill="#b4384a"/>
<text x="334.05" y="93.80" font-family='"Liberation Sans", sans-serif' font-size="25.53" fill="#b4384a" textLength="167.52" lengthAdjust="spacingAndGlyphs">polar average</text>
<path d="M1192.20 177.70 L1192.20 110.20 L758.10 110.20" fill="none" stroke="#555555" stroke-width="4.50" stroke-linecap="round" stroke-linejoin="round"/>
<line x1="758.10" y1="70.00" x2="758.10" y2="150.00" stroke="#555555" stroke-width="4.50" stroke-linecap="butt"/>
<polygon points="758.10,58.80 751.10,72.90 765.10,72.90" fill="#555555"/>
<polygon points="758.10,161.00 751.10,147.40 765.10,147.40" fill="#555555"/>
<text x="850.82" y="93.80" font-family='"Liberation Sans", sans-serif' font-size="25.53" fill="#555555" textLength="265.64" lengthAdjust="spacingAndGlyphs">propagate to detector</text>
<path d="M844.50 25.00 L1226.60 25.00 L1226.60 166.00" fill="none" stroke="#3585bc" stroke-width="4.50" stroke-linecap="round" stroke-linejoin="round"/>
<polygon points="1226.60,178.20 1219.90,165.00 1233.30,165.00" fill="#3585bc"/>
<text x="0.34" y="158.70" font-family='"Liberation Sans", sans-serif' font-size="25.53" font-weight="bold" fill="#000" textLength="14.36" lengthAdjust="spacingAndGlyphs">a</text>
<text x="420.23" y="158.70" font-family='"Liberation Sans", sans-serif' font-size="25.53" font-weight="bold" fill="#000" textLength="17.91" lengthAdjust="spacingAndGlyphs">b</text>
<text x="919.47" y="158.70" font-family='"Liberation Sans", sans-serif' font-size="25.53" font-weight="bold" fill="#000" textLength="14.55" lengthAdjust="spacingAndGlyphs">c</text>
<text x="-0.04" y="633.70" font-family='"Liberation Sans", sans-serif' font-size="25.53" font-weight="bold" fill="#000" textLength="17.78" lengthAdjust="spacingAndGlyphs">d</text>
<text x="420.02" y="633.70" font-family='"Liberation Sans", sans-serif' font-size="25.53" font-weight="bold" fill="#000" textLength="16.73" lengthAdjust="spacingAndGlyphs">e</text>
<text x="919.61" y="633.70" font-family='"Liberation Sans", sans-serif' font-size="25.53" font-weight="bold" fill="#000" textLength="11.18" lengthAdjust="spacingAndGlyphs">f</text></svg>
</body></html>
